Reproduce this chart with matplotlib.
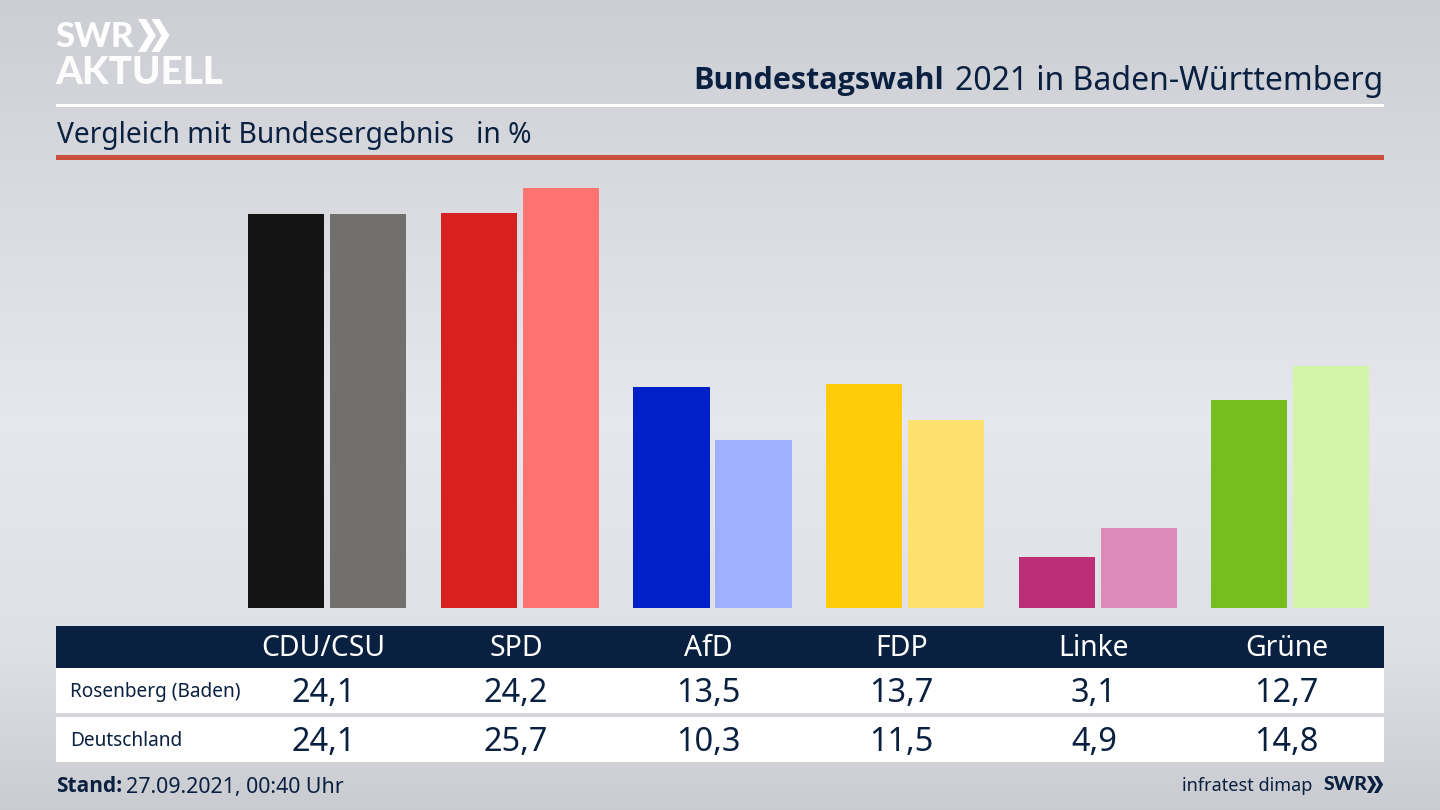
# plot.py

import numpy as np
import matplotlib.pyplot as plt
from matplotlib.patches import Polygon, Rectangle

parties = ["CDU/CSU", "SPD", "AfD", "FDP", "Linke", "Grüne"]
row_labels = ["Rosenberg (Baden)", "Deutschland"]
rosenberg = [24.1, 24.2, 13.5, 13.7, 3.1, 12.7]
deutschland = [24.1, 25.7, 10.3, 11.5, 4.9, 14.8]
colors_local = ["#141414", "#d8201f", "#0020c8", "#ffcc0a", "#bc2f78", "#78bd1e"]
colors_national = ["#71706d", "#ff7470", "#9fb0ff", "#fee070", "#de8ab8", "#d2f5a8"]

W, H = 1440, 810
NAVY = "#0a2040"
FONT = "Noto Sans"
BOLD = "Open Sans"
LOGO = "Lato"

plt.rcParams["font.family"] = [FONT, "DejaVu Sans"]


def fmt(v):
    return f"{v:.1f}".replace(".", ",")


def chevrons(ax, x, y, h, color):
    # the two arrows of the SWR logo
    w = h * 0.30
    t = h * 0.24
    for dx in (0, h * 0.41):
        pts = [(x + dx, y), (x + dx + t, y), (x + dx + t + w, y + h / 2),
               (x + dx + t, y + h), (x + dx, y + h), (x + dx + w, y + h / 2)]
        ax.add_patch(Polygon(pts, closed=True, fc=color, ec="none"))


fig = plt.figure(figsize=(W / 100, H / 100), dpi=100)

# background gradient, lightest around the middle of the picture
bg = fig.add_axes([0, 0, 1, 1], zorder=0)
shade = np.interp(np.arange(H), [0, 200, 420, 650, 810], [0.80, 0.85, 0.90, 0.87, 0.79])
rgb = np.stack([shade, shade + 0.008, shade + 0.03], axis=1).clip(0, 1)
bg.imshow(rgb[:, None, :], aspect="auto", extent=[0, W, H, 0])
bg.axis("off")

# bars
ax = fig.add_axes([56 / W, 1 - 608 / H, 1328 / W, 438 / H], zorder=1)
ax.patch.set_alpha(0)
x = np.arange(len(parties))
bar_w = 76.2 / 192.6
off = 41 / 192.6
ax.bar(x - off, rosenberg, bar_w, color=colors_local)
ax.bar(x + off, deutschland, bar_w, color=colors_national)
ax.set_xlim((56 - 327.2) / 192.6, (1384 - 327.2) / 192.6)
ax.set_ylim(0, 438 / 16.34)
ax.axis("off")

# header, table and footer are placed in pixel coordinates
ov = fig.add_axes([0, 0, 1, 1], zorder=2)
ov.set_xlim(0, W)
ov.set_ylim(H, 0)
ov.axis("off")

ov.text(55, 37, "SWR", color="white", fontsize=25, family=LOGO, fontweight="black", va="center", ha="left")
chevrons(ov, 138, 19, 33, "white")
ov.text(55, 73, "AKTUELL", color="white", fontsize=27.7, family=LOGO, fontweight="black", va="center", ha="left", alpha=0.95)

ov.text(693, 81, "Bundestagswahl", color=NAVY, fontsize=22, family=BOLD, fontweight="bold", va="center", ha="left")
ov.text(1383, 81, "2021 in Baden-Württemberg", color=NAVY, fontsize=23, va="center", ha="right")
ov.add_patch(Rectangle((56, 104), 1328, 3, fc="white", ec="none"))
ov.text(57, 135, "Vergleich mit Bundesergebnis   in %", color=NAVY, fontsize=20.3, va="center", ha="left")
ov.add_patch(Rectangle((56, 155), 1328, 5, fc="#c8503c", ec="none"))

ov.add_patch(Rectangle((56, 626), 1328, 42, fc=NAVY, ec="none"))
ov.add_patch(Rectangle((56, 668), 1328, 45, fc="white", ec="none"))
ov.add_patch(Rectangle((56, 717), 1328, 45, fc="white", ec="none"))

for i, party in enumerate(parties):
    cx = 323.5 + 192.6 * i
    ov.text(cx, 648.5, party, color="white", fontsize=20.4, va="center", ha="center")
    ov.text(cx, 693.5, fmt(rosenberg[i]), color=NAVY, fontsize=23.4, va="center", ha="center")
    ov.text(cx, 742.5, fmt(deutschland[i]), color=NAVY, fontsize=23.4, va="center", ha="center")

ov.text(70, 692, row_labels[0], color=NAVY, fontsize=13.7, va="center", ha="left")
ov.text(70, 741, row_labels[1], color=NAVY, fontsize=13.7, va="center", ha="left")

ov.text(56, 787, "Stand:", color=NAVY, fontsize=15, family=BOLD, fontweight="bold", va="center", ha="left")
ov.text(126, 787, "27.09.2021, 00:40 Uhr", color=NAVY, fontsize=15.4, va="center", ha="left")
ov.text(1312, 786, "infratest dimap", color=NAVY, fontsize=13, va="center", ha="right")
ov.text(1324, 785, "SWR", color=NAVY, fontsize=14, family=LOGO, fontweight="black", va="center", ha="left")
chevrons(ov, 1367, 776, 17, NAVY)

fig.savefig("out.png", dpi=100)
plt.close(fig)
